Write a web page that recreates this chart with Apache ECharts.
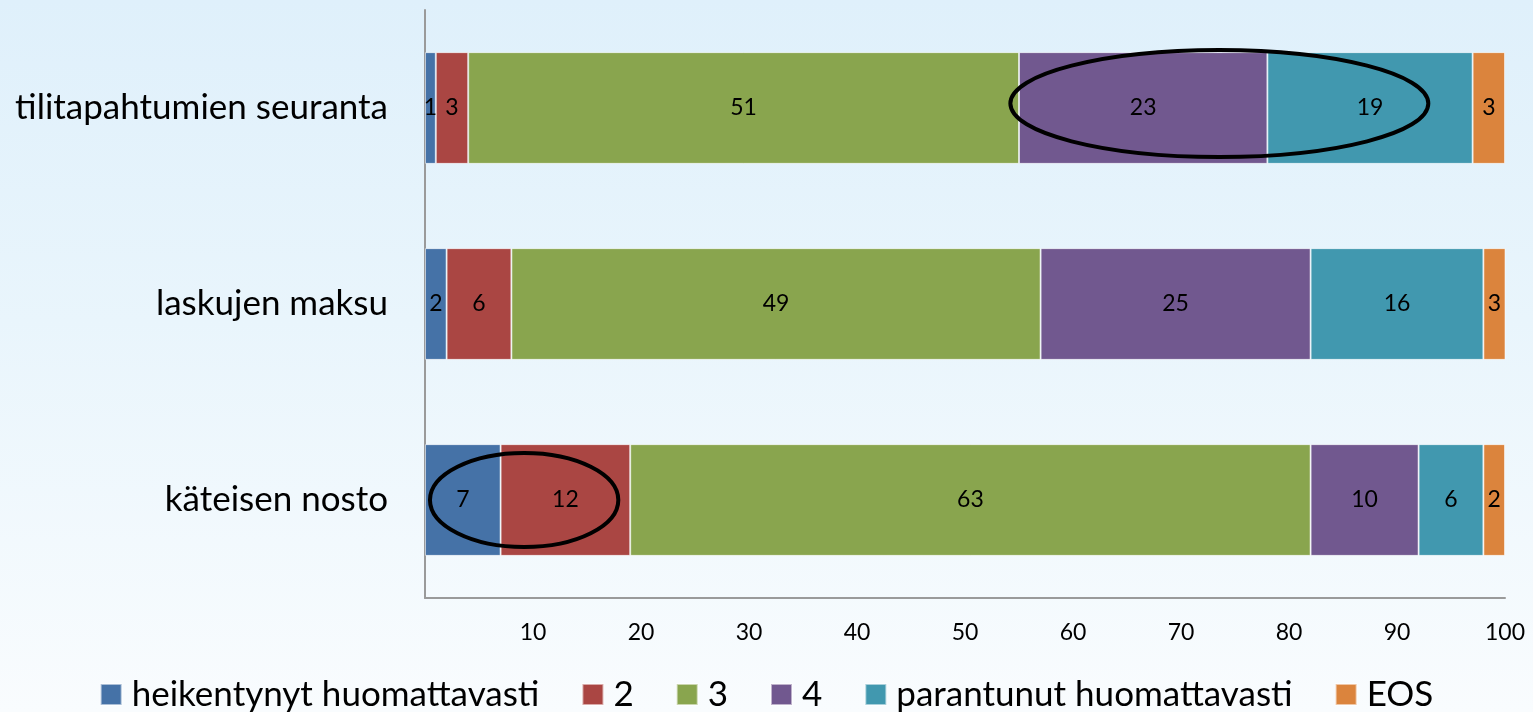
<!DOCTYPE html>
<html>
<head>
<meta charset="utf-8">
<script src="https://cdn.jsdelivr.net/npm/echarts@6/dist/echarts.min.js"></script>
<style>
  html, body { margin: 0; padding: 0; }
  #chart {
    width: 1533px; height: 712px;
    background: linear-gradient(to bottom, #dff0fb 0%, #e9f5fc 45%, #f9fcfe 100%);
  }
</style>
</head>
<body>
<div id="chart"></div>
<script>
// Survey rows (top to bottom) and the share of answers per category, %
const categories = ['tilitapahtumien seuranta', 'laskujen maksu', 'käteisen nosto'];
const seriesNames = ['heikentynyt huomattavasti', '2', '3', '4', 'parantunut huomattavasti', 'EOS'];
const heikentynyt = [1, 2, 7];
const arvo2 = [3, 6, 12];
const arvo3 = [51, 49, 63];
const arvo4 = [23, 25, 10];
const parantunut = [19, 16, 6];
const eos = [3, 3, 2];
const xTicks = [10, 20, 30, 40, 50, 60, 70, 80, 90, 100];

const seriesValues = [heikentynyt, arvo2, arvo3, arvo4, parantunut, eos];
const colors = ['#4572a7', '#aa4643', '#89a54e', '#71588f', '#4198af', '#db843d'];
const FONT = 'Lato, "Open Sans", sans-serif';

// Highlight rings drawn around groups of segments (x in %, y offset in band units)
const highlights = [
  { row: 0, x0: 54.2, x1: 92.9, dy: -0.023, ry: 0.273 },
  { row: 2, x0: 0.46, x1: 17.9, dy: 0.0, ry: 0.24 }
];

const chart = echarts.init(document.getElementById('chart'), null, { renderer: 'canvas' });

const option = {
  backgroundColor: 'transparent',
  color: colors,
  textStyle: { fontFamily: FONT },
  grid: { left: 425, right: 28, top: 10, bottom: 114, containLabel: false },
  legend: {
    top: 672,
    left: 'center',
    itemWidth: 21,
    itemHeight: 21,
    itemGap: 42,
    icon: 'rect',
    textStyle: { fontFamily: FONT, fontSize: 35, color: '#000', padding: [0, 0, 0, 5] },
    data: seriesNames
  },
  xAxis: {
    type: 'value',
    min: 0,
    max: 100,
    interval: 10,
    axisLine: { show: true, lineStyle: { color: '#9a9a9a', width: 2 } },
    axisTick: { show: false },
    splitLine: { show: false },
    axisLabel: {
      margin: 23,
      fontFamily: FONT,
      fontSize: 23,
      color: '#000',
      formatter: v => (xTicks.indexOf(v) >= 0 ? String(v) : '')
    }
  },
  yAxis: {
    type: 'category',
    inverse: true,
    data: categories,
    axisLine: { show: true, lineStyle: { color: '#9a9a9a', width: 2 } },
    axisTick: { show: false },
    axisLabel: { margin: 37, fontFamily: FONT, fontSize: 35, color: '#000' }
  },
  series: seriesNames.map((name, i) => ({
    name,
    type: 'bar',
    stack: 'total',
    barWidth: '57%',
    clip: true,
    data: seriesValues[i],
    itemStyle: { borderColor: 'rgba(255,255,255,0.55)', borderWidth: 1 },
    label: {
      show: true,
      position: 'inside',
      fontFamily: FONT,
      fontSize: 23,
      color: '#000'
    },
    emphasis: { disabled: true }
  }))
};

chart.setOption(option);

function drawHighlights() {
  const graphics = highlights.map(h => {
    const left = chart.convertToPixel({ gridIndex: 0 }, [h.x0, h.row]);
    const right = chart.convertToPixel({ gridIndex: 0 }, [h.x1, h.row]);
    const next = chart.convertToPixel({ gridIndex: 0 }, [h.x0, h.row + 1]);
    const band = Math.abs(next[1] - left[1]);
    return {
      type: 'ellipse',
      shape: {
        cx: (left[0] + right[0]) / 2,
        cy: left[1] + h.dy * band,
        rx: (right[0] - left[0]) / 2,
        ry: h.ry * band
      },
      style: { fill: null, stroke: '#000', lineWidth: 4 },
      silent: true,
      z: 100
    };
  });
  chart.setOption({ graphic: graphics });
}
drawHighlights();
</script>
</body>
</html>
